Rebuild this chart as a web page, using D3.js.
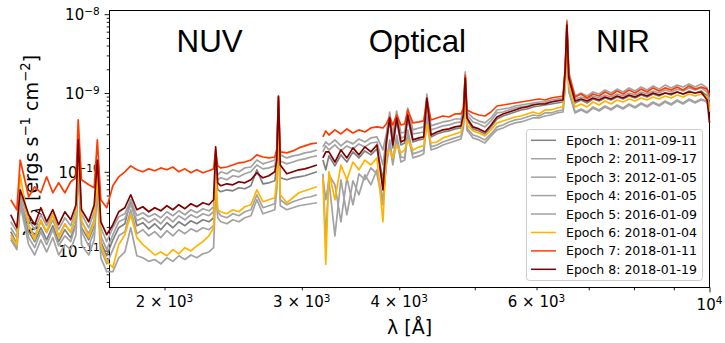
<!DOCTYPE html>
<html><head><meta charset="utf-8">
<script src="https://cdn.jsdelivr.net/npm/d3@7"></script>
<style>body{margin:0;background:#fff} svg text{font-family:"DejaVu Sans",sans-serif;fill:#000}</style>
</head><body><svg id="c" width="725" height="343"></svg>
<script>
// wavelength grid [Å]
const wavelengths = [1270,1293,1306,1339,1363,1388,1412,1438,1463,1490,1516,1540,1550,1565,1599,1625,1640,1657,1686,1717,
1747,1779,1810,1843,1876,1909,1943,1978,2014,2050,2086,2124,2162,2200,2240,2280,2312,2326,2340,2362,
2404,2447,2491,2535,2581,2627,2674,2722,2770,2786,2800,2815,2870,2922,2974,3027,3081,3137,3165,3193,
3220,3250,3308,3367,3427,3489,3551,3614,3679,3745,3812,3850,3889,3925,3970,4020,4065,4102,4165,4240,
4300,4340,4393,4471,4551,4633,4716,4800,4835,4861,4886,4973,5062,5153,5245,5339,5434,5532,5631,5731,
5834,5938,6044,6152,6263,6375,6489,6530,6563,6600,6723,6843,6965,7090,7217,7346,7477,7611,7747,7886,
8027,8171,8317,8465,8617,8771,8928,9088,9250,9416,9584,9756,9930,10000];
// flux values in units of 1e-12 erg s^-1 cm^-2
const UNIT = 1e-12;
const epoch1 = [17.4,12.2,38.2,17.4,13.0,19.5,13.7,20.7,13.0,18.4,
14.6,21.9,122,19.5,13.7,20.7,79.2,13.0,8.6,13.7,
19.5,21.9,44.2,20.7,22.6,18.9,21.9,18.4,22.6,19.5,
23.2,20.7,23.9,21.9,24.6,23.2,26.1,106,59.1,55.8,
59.1,57.4,62.7,60.9,66.5,106,70.4,72.5,76.9,122,
645,83.9,79.2,83.9,86.4,89.0,94.3,100,null,141,
106,159,119,164,133,179,150,184,164,195,
79.2,213,482,201,455,219,232,482,239,254,
261,769,277,302,320,330,350,360,482,1460,
455,350,330,302,371,468,511,542,574,609,
627,665,684,704,725,747,769,1690,6300,1460,
747,815,747,839,792,864,815,890,839,916,
864,943,890,971,916,1000,943,1030,971,1060,
1000,1060,916,609];
const epoch2 = [23.2,17.4,51.1,24.6,18.4,28.5,20.7,29.3,18.4,26.1,
20.7,33.0,189,29.3,19.5,31.1,122,19.5,13.0,19.5,
26.9,29.3,44.2,27.7,30.2,26.9,29.3,26.1,31.1,27.7,
32.0,28.5,33.0,30.2,34.0,32.0,36.0,141,91.6,100,
94.3,106,100,112,115,141,126,133,141,189,
815,164,150,159,164,174,179,189,null,207,
239,219,254,213,246,226,261,239,269,277,
189,302,574,293,591,311,320,645,340,360,
371,971,382,405,429,442,468,468,609,1850,
574,482,442,417,482,609,627,645,684,704,
725,747,769,769,815,839,864,2080,8440,1850,
916,1000,916,1030,971,1090,1000,1120,1030,1160,
1060,1190,1090,1230,1120,1260,1160,1260,1190,1300,
1190,1300,1160,815];
const epoch3 = [19.5,14.6,44.2,20.7,15.4,23.2,16.9,24.6,15.4,21.9,
16.9,26.1,141,23.2,16.4,24.6,91.6,15.4,10.3,15.9,
23.2,25.4,38.2,23.9,26.1,22.6,25.4,21.9,26.9,23.2,
27.7,24.6,28.5,26.1,29.3,27.7,31.1,122,79.2,83.9,
79.2,89.0,86.4,94.3,100,122,109,112,119,164,
704,137,126,133,141,146,154,159,null,179,
213,189,219,184,213,195,226,207,232,239,
122,261,455,254,482,269,277,526,302,311,
320,815,340,360,382,393,417,429,574,1640,
526,429,405,371,442,558,574,609,645,665,
684,725,725,747,769,815,815,1850,6680,1640,
839,890,839,916,864,943,890,971,916,1000,
943,1030,971,1060,1000,1090,1030,1120,1060,1160,
1090,1160,1030,704];
const epoch4 = [14.6,10.9,44.2,14.6,10.9,17.4,11.9,18.4,11.5,15.4,
13.0,21.3,141,17.4,11.5,17.4,68.4,10.3,6.8,10.3,
15.4,17.4,33.0,16.4,18.4,15.4,17.4,14.6,17.9,15.4,
18.4,16.4,18.9,17.4,19.5,18.4,20.7,79.2,31.1,27.7,
26.1,29.3,27.7,31.1,33.0,51.1,35.0,37.1,39.3,68.4,
393,44.2,38.2,41.7,44.2,46.8,48.2,51.1,null,94.3,
13.7,91.6,68.4,23.2,83.9,38.2,94.3,79.2,112,94.3,
38.2,133,254,141,293,154,150,340,169,179,
189,526,207,219,239,254,269,285,393,1090,
360,293,277,254,302,371,393,429,455,468,
496,526,511,558,558,591,609,1260,5450,1090,
574,627,574,665,609,684,627,704,645,725,
665,747,684,769,704,792,725,815,747,839,
769,839,792,574];
const epoch5 = [13.7,10.3,38.2,11.9,8.8,13.7,9.6,14.6,8.8,11.9,
10.3,15.9,106,11.9,8.8,13.7,59.1,8.1,5.4,5.4,
8.1,9.6,19.5,8.6,8.1,7.3,7.7,6.8,8.1,7.3,
8.6,7.7,8.8,8.1,9.1,9.6,10.9,59.1,26.1,23.2,
21.9,24.6,23.2,26.1,27.7,44.2,29.3,31.1,33.0,59.1,
340,37.1,33.0,35.0,37.1,38.2,39.3,40.5,null,83.9,
44.2,76.9,15.4,79.2,28.5,76.9,51.1,91.6,68.4,106,
44.2,119,219,122,254,133,141,293,150,159,
169,455,189,201,219,232,246,261,360,943,
340,269,254,232,285,340,360,393,417,429,
455,482,482,511,526,558,574,1160,4710,1030,
558,609,558,645,591,665,609,684,627,704,
645,725,665,747,684,769,704,792,725,815,
747,815,769,574];
const epoch6 = [15.9,11.9,91.6,21.3,13.7,24.6,17.4,28.5,14.6,21.3,
17.4,28.5,174,24.6,14.6,23.2,91.6,11.9,7.3,6.1,
11.9,15.9,28.5,14.6,11.9,10.3,8.8,9.6,8.6,10.3,
9.1,10.9,9.9,11.5,13.0,15.4,19.5,91.6,33.0,31.1,
29.3,33.0,31.1,36.0,38.2,59.1,41.7,44.2,46.8,79.2,
455,51.1,40.5,46.8,54.2,57.4,60.9,64.5,null,83.9,
6.7,100,44.2,122,79.2,133,106,141,122,150,
23.2,164,189,150,219,174,189,254,189,207,
213,393,232,239,269,285,302,320,455,943,
393,330,311,285,340,417,442,468,496,511,
542,574,542,609,609,645,665,1460,5450,1260,
665,725,665,769,704,792,725,815,769,839,
792,864,815,890,839,916,864,943,890,971,
916,971,890,609];
const epoch7 = [44.2,33.0,141,48.2,64.5,54.2,86.4,54.2,72.5,54.2,
74.7,83.9,455,79.2,68.4,62.7,254,44.2,35.0,66.5,
86.4,100,119,106,100,109,103,112,106,115,
100,109,97.1,106,97.1,103,109,189,119,112,
115,122,130,133,141,164,154,150,154,189,
890,179,174,184,201,213,226,232,null,277,
330,293,340,302,350,311,340,320,360,371,
360,405,496,393,526,393,405,609,417,429,
442,815,455,482,511,496,542,542,645,1690,
609,558,526,511,574,684,704,725,747,769,
792,815,839,815,864,890,916,1960,7960,1690,
890,971,864,971,916,1030,943,1060,971,1090,
1000,1120,1030,1160,1060,1160,1090,1190,1090,1230,
1120,1190,1120,943];
const epoch8 = [28.5,19.5,59.1,28.5,21.3,35.0,23.2,33.0,21.3,31.1,
24.6,38.2,254,33.0,23.2,38.2,141,23.2,15.9,21.3,
31.1,35.0,51.1,33.0,36.0,31.1,35.0,32.0,37.1,33.0,
38.2,34.0,39.3,36.0,40.5,38.2,44.2,207,72.5,66.5,
70.4,68.4,74.7,72.5,79.2,97.1,83.9,89.0,100,141,
916,122,94.3,100,106,109,115,122,null,150,
179,179,133,189,150,201,164,207,179,219,
59.1,239,482,219,482,239,254,526,254,269,
277,864,293,320,340,350,371,382,526,1550,
482,371,350,320,393,496,542,574,609,645,
665,704,725,725,769,792,815,1960,7290,1550,
792,839,792,864,815,890,839,916,864,943,
890,971,916,1000,943,1000,971,1030,971,1030,
1000,1030,815,417];
const seriesLabels = ["Epoch 1: 2011-09-11","Epoch 2: 2011-09-17","Epoch 3: 2012-01-05","Epoch 4: 2016-01-05",
  "Epoch 5: 2016-01-09","Epoch 6: 2018-01-04","Epoch 7: 2018-01-11","Epoch 8: 2018-01-19"];
const seriesValues = [epoch1,epoch2,epoch3,epoch4,epoch5,epoch6,epoch7,epoch8];
const seriesColors = ["#808080","#a2a2a2","#a2a2a2","#a2a2a2","#a2a2a2","#ffb400","#ff3c00","#800000"];
const regionLabels = ["NUV","Optical","NIR"];
const regionWave = [2285, 4220, 7745];
const xMinorTicks = [2000,3000,4000,5000,6000,7000,8000,9000];
const xMajorTicks = [10000];
const xLabelTicks = [2000,3000,4000,6000,10000];
const xLabelMant = ["2","3","4","6",""];
const xLabelExp = ["3","3","3","3","4"];
const yMajorTicks = [1e-11,1e-10,1e-9,1e-8];
const yLabelExp = ["−11","−10","−9","−8"];

const svg = d3.select("#c");
const L=109.5, R=709.5, T=10.5, B=287.5;
const x = d3.scaleLog().domain([1700,10000]).range([L,R]);
const y = d3.scaleLog().domain([3.401e-12,1.114e-8]).range([B,T]);

const yMinorTicks = [];
[-12,-11,-10,-9].forEach(e=>{for(let m=2;m<=9;m++){const v=m*Math.pow(10,e); if(v>=y.domain()[0]&&v<=y.domain()[1]) yMinorTicks.push(v);}});

function styleAxis(g){ g.select(".domain").remove(); g.selectAll("line").attr("stroke","#000").attr("stroke-width",0.9); }
svg.append("g").attr("transform",`translate(0,${B})`).call(d3.axisBottom(x).tickValues(xMinorTicks).tickSize(2.8).tickFormat("")).call(styleAxis);
svg.append("g").attr("transform",`translate(0,${B})`).call(d3.axisBottom(x).tickValues(xMajorTicks).tickSize(4.9).tickFormat("")).call(styleAxis);
svg.append("g").attr("transform",`translate(${L},0)`).call(d3.axisLeft(y).tickValues(yMinorTicks).tickSize(2.8).tickFormat("")).call(styleAxis);
svg.append("g").attr("transform",`translate(${L},0)`).call(d3.axisLeft(y).tickValues(yMajorTicks).tickSize(4.9).tickFormat("")).call(styleAxis);

// x tick labels
xLabelTicks.forEach((v,i)=>{
  const major = xMajorTicks.includes(v);
  const t = svg.append("text").attr("x",x(v)).attr("y",B+(major?22:19.6)).attr("text-anchor","middle").attr("font-size",15);
  t.append("tspan").text(xLabelMant[i] ? xLabelMant[i]+" × 10" : "10");
  t.append("tspan").attr("font-size",10.5).attr("dy",-5.4).text(xLabelExp[i]);
});
// y tick labels
yMajorTicks.forEach((v,i)=>{
  const t = svg.append("text").attr("x",L-9.8).attr("y",y(v)+6.3).attr("text-anchor","end").attr("font-size",15);
  t.append("tspan").text("10");
  t.append("tspan").attr("font-size",10.5).attr("dy",-5.6).text(yLabelExp[i]);
});
// axis labels
svg.append("text").attr("x",(L+R)/2).attr("y",334).attr("text-anchor","middle").attr("font-size",19).text("λ [Å]");
const yl = svg.append("text").attr("transform",`translate(38,${(T+B)/2-3}) rotate(-90)`).attr("text-anchor","middle").attr("font-size",19);
yl.append("tspan").text("λ");
yl.append("tspan").attr("font-style","italic").text("F");
yl.append("tspan").attr("font-size",13.3).attr("font-style","italic").attr("dy",4).text("λ");
yl.append("tspan").attr("dy",-4).text(" [ergs s");
yl.append("tspan").attr("font-size",13.3).attr("dy",-8).text("−1");
yl.append("tspan").attr("dy",8).text(" cm");
yl.append("tspan").attr("font-size",13.3).attr("dy",-8).text("−2");
yl.append("tspan").attr("dy",8).text("]");

// region labels
regionLabels.forEach((s,i)=>{
  svg.append("text").attr("x",x(regionWave[i])).attr("y",52).attr("text-anchor","middle")
    .style("font-family","'Liberation Sans',Arial,sans-serif").attr("font-size",31.3).text(s);
});

// spines
svg.append("rect").attr("x",L).attr("y",T).attr("width",R-L).attr("height",B-T).attr("fill","none").attr("stroke","#000").attr("stroke-width",1);

// spectra (not clipped, like the reference)
const line = d3.line().defined(d=>d[1]!=null).x(d=>x(d[0])).y(d=>y(d[1]*UNIT));
seriesValues.forEach((vals,i)=>{
  const pts = wavelengths.map((w,j)=>[w, vals[j]==null?null:vals[j]]);
  svg.append("path").datum(pts).attr("d",line).attr("fill","none").attr("stroke",seriesColors[i])
    .attr("stroke-width",1.7).attr("stroke-linejoin","round");
});

// legend
const lg = svg.append("g");
lg.append("rect").attr("x",526.5).attr("y",129.5).attr("width",176).attr("height",151).attr("rx",3)
  .attr("fill","#fff").attr("fill-opacity",0.85).attr("stroke","#cccccc").attr("stroke-width",1);
seriesLabels.forEach((s,i)=>{
  const cy = 140.3 + i*18.43;
  lg.append("line").attr("x1",531).attr("x2",556).attr("y1",cy).attr("y2",cy).attr("stroke",seriesColors[i]).attr("stroke-width",1.5);
  lg.append("text").attr("x",566).attr("y",cy+4.5).attr("font-size",12.5).text(s);
});
</script></body></html>
